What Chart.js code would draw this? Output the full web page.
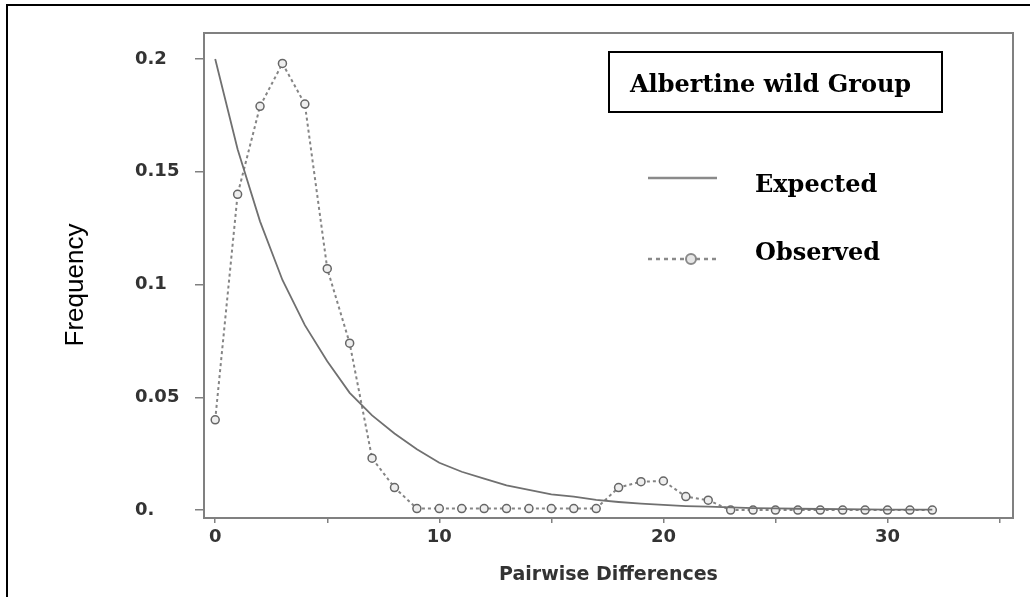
<!DOCTYPE html>
<html>
<head>
<meta charset="utf-8">
<script src="https://cdn.jsdelivr.net/npm/chart.js@4"></script>
<style>
  body { margin: 0; background: #fff; }
  canvas { display: block; }
</style>
</head>
<body>
<canvas id="mismatch" width="1035" height="597"></canvas>
<script>
// pairwise differences (x) and frequencies
const diffs = [0, 1, 2, 3, 4, 5, 6, 7, 8, 9, 10, 11, 12, 13, 14, 15, 16,
  17, 18, 19, 20, 21, 22, 23, 24, 25, 26, 27, 28, 29, 30, 31, 32];

const observed = [0.040, 0.140, 0.179, 0.198, 0.180, 0.107, 0.074, 0.023, 0.010,
  0.0007, 0.0007, 0.0007, 0.0007, 0.0007, 0.0007, 0.0007, 0.0007, 0.0007,
  0.010, 0.0126, 0.0129, 0.006, 0.0044,
  0, 0, 0, 0, 0, 0, 0, 0, 0, 0];

const expected = [0.200, 0.160, 0.128, 0.102, 0.082, 0.066, 0.052, 0.042, 0.034,
  0.027, 0.021, 0.017, 0.014, 0.011, 0.009, 0.007, 0.006, 0.0045, 0.0036,
  0.0029, 0.0023, 0.0018, 0.0015, 0.0012, 0.0009, 0.0008, 0.0006, 0.0005,
  0.0004, 0.0003, 0.0002, 0.0002, 0.0002];

const yTicks = [0, 0.05, 0.1, 0.15, 0.2];
const yTickLabels = ["0.", "0.05", "0.1", "0.15", "0.2"];
const xLabelEvery = 10;

const groupName = "Albertine wild Group";
const seriesNames = ["Expected", "Observed"];

const axisGray = "#808080";
const textGray = "#333333";

const toPoints = (ys) => diffs.map((d, i) => ({ x: d, y: ys[i] }));

// frame around the plot, page border, legend and y title
const decorations = {
  id: "decorations",
  afterDraw(chart) {
    const ctx = chart.ctx;
    const a = chart.chartArea;
    ctx.save();

    // outer black border (top + left)
    ctx.strokeStyle = "#000";
    ctx.lineWidth = 2;
    ctx.beginPath();
    ctx.moveTo(7, 597);
    ctx.lineTo(7, 5);
    ctx.lineTo(1030, 5);
    ctx.stroke();

    // plot frame
    ctx.strokeStyle = axisGray;
    ctx.lineWidth = 2;
    ctx.strokeRect(a.left, a.top, a.right - a.left, a.bottom - a.top);

    // y title
    ctx.fillStyle = "#000";
    ctx.font = "26px 'Liberation Sans', Arial, sans-serif";
    ctx.translate(83, 285);
    ctx.rotate(-Math.PI / 2);
    ctx.textAlign = "center";
    ctx.textBaseline = "alphabetic";
    ctx.fillText("Frequency", 0, 0);
    ctx.setTransform(1, 0, 0, 1, 0, 0);

    // legend title box
    ctx.strokeStyle = "#000";
    ctx.lineWidth = 2;
    ctx.strokeRect(609, 52, 333, 60);
    ctx.fillStyle = "#000";
    ctx.textAlign = "left";
    ctx.font = "bold 24px 'DejaVu Serif', serif";
    ctx.fillText(groupName, 630, 92);

    // legend entries
    ctx.fillText(seriesNames[0], 755, 192);
    ctx.fillText(seriesNames[1], 755, 260);

    ctx.strokeStyle = "#8a8a8a";
    ctx.lineWidth = 2.5;
    ctx.beginPath();
    ctx.moveTo(648, 178);
    ctx.lineTo(717, 178);
    ctx.stroke();

    ctx.setLineDash([4, 4]);
    ctx.beginPath();
    ctx.moveTo(648, 259);
    ctx.lineTo(717, 259);
    ctx.stroke();
    ctx.setLineDash([]);
    ctx.fillStyle = "#e6e6e6";
    ctx.strokeStyle = "#8a8a8a";
    ctx.lineWidth = 2;
    ctx.beginPath();
    ctx.arc(691, 259, 5, 0, Math.PI * 2);
    ctx.fill();
    ctx.stroke();

    ctx.restore();
  }
};

new Chart(document.getElementById("mismatch"), {
  type: "line",
  data: {
    datasets: [
      {
        label: seriesNames[0],
        data: toPoints(expected),
        borderColor: "#707070",
        borderWidth: 1.8,
        pointRadius: 0,
        tension: 0
      },
      {
        label: seriesNames[1],
        data: toPoints(observed),
        borderColor: "#858585",
        borderWidth: 2,
        borderDash: [3, 3],
        pointRadius: 4,
        pointBorderWidth: 1.5,
        pointBorderColor: "#666666",
        pointBackgroundColor: "#eeeeee",
        tension: 0
      }
    ]
  },
  options: {
    responsive: false,
    animation: false,
    devicePixelRatio: 1,
    layout: { padding: { left: 135, top: 33, right: 22, bottom: 0 } },
    plugins: {
      legend: { display: false },
      tooltip: { enabled: false }
    },
    scales: {
      x: {
        type: "linear",
        min: -0.5,
        max: 35.6,
        afterFit: (s) => { s.height = 79; },
        border: { display: false },
        grid: { drawOnChartArea: false, tickLength: 5, color: axisGray, lineWidth: 1.5 },
        ticks: {
          stepSize: 5,
          includeBounds: false,
          autoSkip: false,
          maxRotation: 0,
          padding: 4,
          color: textGray,
          font: { family: "'DejaVu Sans', sans-serif", size: 18, weight: "bold" },
          callback: (v) => (v % xLabelEvery === 0 ? String(v) : "")
        },
        title: {
          display: true,
          text: "Pairwise Differences",
          color: textGray,
          font: { family: "'DejaVu Sans', sans-serif", size: 19, weight: "bold" },
          padding: { top: 0, bottom: 11 }
        }
      },
      y: {
        type: "linear",
        min: -0.0035,
        max: 0.2115,
        afterFit: (s) => { s.width = 69; },
        afterBuildTicks: (s) => { s.ticks = yTicks.map((v) => ({ value: v })); },
        border: { display: false },
        grid: { drawOnChartArea: false, tickLength: 9, color: axisGray, lineWidth: 1.5 },
        ticks: {
          crossAlign: "far",
          color: textGray,
          font: { family: "'DejaVu Sans', sans-serif", size: 18, weight: "bold" },
          callback: (v) => yTickLabels[yTicks.indexOf(v)]
        }
      }
    }
  },
  plugins: [decorations]
});
</script>
</body>
</html>
